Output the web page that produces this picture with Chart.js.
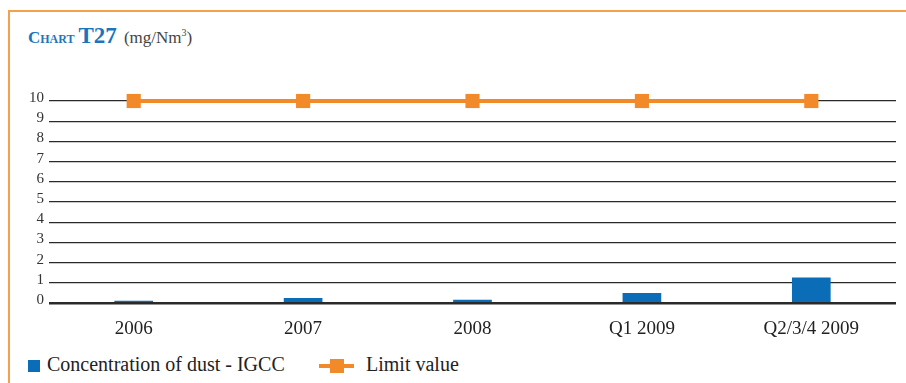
<!DOCTYPE html>
<html lang="en">
<head>
<meta charset="UTF-8">
<title>Chart T27</title>
<script src="https://cdn.jsdelivr.net/npm/chart.js"></script>
<style>
    body {
        margin: 0;
        background: #fff;
        font-family: "Liberation Serif", "DejaVu Serif", serif;
    }
    #wrap {
        position: relative;
        width: 906px;
        height: 383px;
        overflow: hidden;
    }
    #frame {
        position: absolute;
        left: 8px;
        top: 10px;
        width: 910px;
        height: 400px;
        border-top: 2px solid #F5A04C;
        border-left: 2px solid #F5A04C;
    }
    #title {
        position: absolute;
        left: 28px;
        top: 23px;
        color: #1C75BC;
        white-space: nowrap;
    }
    #title .sc { font-variant: small-caps; font-weight: bold; font-size: 17px; }
    #title .num { font-weight: bold; font-size: 23px; }
    #title .unit { color: #444; font-size: 17px; margin-left: 3px; }
    #chart {
        position: absolute;
        left: 0;
        top: 0;
    }
    .legend {
        position: absolute;
        top: 352px;
        font-size: 20px;
        color: #222;
        white-space: nowrap;
        line-height: 24px;
    }
    .swatch-bar {
        display: inline-block;
        width: 12px;
        height: 12px;
        background: #0B6DB7;
        vertical-align: -1px;
        margin-right: 7px;
    }
    .swatch-line {
        display: inline-block;
        position: relative;
        width: 35px;
        height: 14px;
        vertical-align: -2px;
        margin-right: 12px;
    }
    .swatch-line::before {
        content: "";
        position: absolute;
        left: 0; right: 0; top: 5px;
        height: 4px;
        background: #F28A2A;
    }
    .swatch-line::after {
        content: "";
        position: absolute;
        left: 11px; top: 0;
        width: 14px; height: 14px;
        background: #F28A2A;
    }
</style>
</head>
<body>
<div id="wrap">
    <div id="frame"></div>
    <div id="title"><span class="sc">Chart</span> <span class="num">T27</span> <span class="unit">(mg/Nm<sup style="font-size:10px">3</sup>)</span></div>
    <canvas id="chart" width="906" height="345"></canvas>
    <div class="legend" style="left:28px"><span class="swatch-bar"></span>Concentration of dust - IGCC</div>
    <div class="legend" style="left:319px"><span class="swatch-line"></span>Limit value</div>
</div>
<script>
const categories = ['2006', '2007', '2008', 'Q1 2009', 'Q2/3/4 2009'];
const dust = [0.1, 0.23, 0.15, 0.48, 1.24];
const limitValue = [10, 10, 10, 10, 10];
const yTicks = [0, 1, 2, 3, 4, 5, 6, 7, 8, 9, 10];

const serif = "'Liberation Serif', 'DejaVu Serif', serif";

const ctx = document.getElementById('chart').getContext('2d');
new Chart(ctx, {
    type: 'bar',
    data: {
        labels: categories,
        datasets: [
            {
                type: 'line',
                label: 'Limit value',
                data: limitValue,
                borderColor: '#F28A2A',
                backgroundColor: '#F28A2A',
                borderWidth: 4,
                pointStyle: 'rect',
                pointRadius: 10,
                pointBorderWidth: 0,
                tension: 0,
                clip: false,
                order: 0
            },
            {
                label: 'Concentration of dust - IGCC',
                data: dust,
                backgroundColor: '#0B6DB7',
                barThickness: 38,
                order: 1
            }
        ]
    },
    options: {
        responsive: false,
        animation: false,
        layout: { padding: { top: 101, right: 10, left: 0, bottom: 0 } },
        plugins: {
            legend: { display: false },
            tooltip: { enabled: false }
        },
        scales: {
            x: {
                grid: { display: false },
                border: { display: false },
                ticks: {
                    color: '#222',
                    padding: 7,
                    font: { family: serif, size: 19 }
                },
                afterFit(scale) { scale.height = 42; }
            },
            y: {
                min: 0,
                max: 10,
                afterBuildTicks(scale) {
                    scale.ticks = yTicks.map(v => ({ value: v }));
                },
                grid: {
                    drawTicks: false,
                    color: '#2a2a2a',
                    lineWidth: c => (c.tick && c.tick.value === 0 ? 2.5 : 1.3)
                },
                border: { display: false },
                ticks: {
                    autoSkip: false,
                    color: '#333',
                    padding: 5,
                    labelOffset: -3,
                    font: { family: serif, size: 15 }
                },
                afterFit(scale) { scale.width = 49; }
            }
        }
    }
});
</script>
</body>
</html>
